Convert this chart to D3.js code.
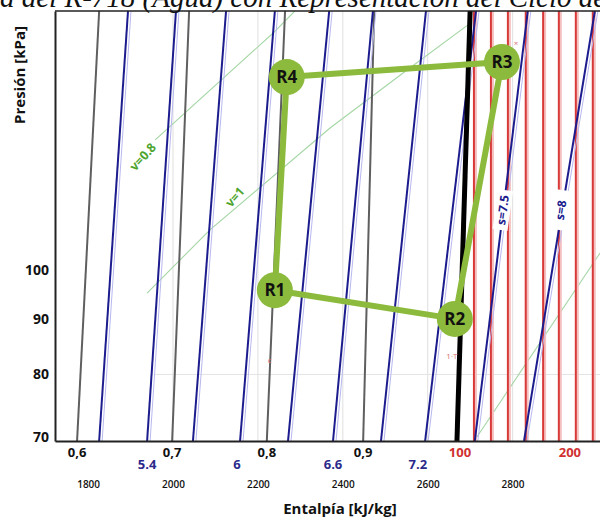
<!DOCTYPE html>
<html>
<head>
<meta charset="utf-8">
<script src="https://cdn.jsdelivr.net/npm/d3@7"></script>
<style>
  body { margin: 0; background: #fff; }
  svg { display: block; }
</style>
</head>
<body>
<script>
// axes: enthalpy (kJ/kg) and pressure (kPa, log)
const hDomain = [1722, 3006]
const pDomain = [69.4, 174]
const hTicks = [1800, 2000, 2200, 2400, 2600, 2800]
const hGrid = [2000, 2200, 2400, 2600, 2800]
const pTicks = [70, 80, 90, 100]
const pGrid = [80]

// quality lines, h at bottom and top of the chart
const qualityLabels = ['0,6', '0,7', '0,8', '0,9']
const qualityHBottom = [1774, 1998, 2221, 2448]
const qualityHTop = [1826, 2038, 2264, 2474]

// saturated vapour (x = 1)
const satVapourH = [2669, 2700]

// isentropes
const entropyValues = [5.1, 5.4, 5.7, 6.0, 6.3, 6.6, 6.9, 7.2, 7.5, 8.0]
const entropyHBottom = [1826, 1939, 2047, 2158, 2271, 2377, 2490, 2594, 2711, 2827]
const entropyHTop = [1894, 2007, 2125, 2240, 2368, 2471, 2596, 2714, 2836, 2994]
const entropyTickLabels = ['5.4', '6', '6.6', '7.2']
const entropyTickH = [1939, 2151, 2377, 2577]
const entropyLineLabels = ['s=7.5', 's=8']
const entropyLineLabelH = [2777, 2914]
const entropyLineLabelP = [113.7, 113.7]

// isotherms in the superheated region
const isothermH = [2709, 2749, 2789, 2831, 2872, 2909, 2949, 2989]
const tempTickLabels = ['100', '200']
const tempTickH = [2676, 2935]

// constant volume lines [h, P]
const volume08 = [[1958, 132.1], [2236, 166], [2287, 174]]
const volume1 = [[1939, 95.2], [2087, 109], [2370, 135.5], [2542, 152.4], [2695, 168.9]]
const volumeSuper = [[2716, 70], [3006, 103.7]]
const volumeLabels = ['v=0.8', 'v=1']
const volumeLabelH = [1929, 2146]
const volumeLabelP = [127.4, 116.9]

// small red marks
const markText = ['1·T', 'c', '×']
const markH = [2657, 2228, 2808]
const markP = [83.2, 82.5, 162.6]

// cycle states
const cycleNames = ['R1', 'R2', 'R3', 'R4']
const cycleH = [2240, 2664, 2775, 2268]
const cycleP = [95.8, 90.1, 156, 151.1]

const titleText = 'Gráfica del R-718 (Agua) con Representación del Ciclo de Carnot'

const width = 600
const height = 519
const margin = { top: 11, right: 0, bottom: 78, left: 55 }
const font = '"Open Sans", "Noto Sans", sans-serif'

const svg = d3.select('body').append('svg')
  .attr('width', width)
  .attr('height', height)

const x = d3.scaleLinear().domain(hDomain).range([margin.left, width - margin.right])
const y = d3.scaleLog().domain(pDomain).range([height - margin.bottom, margin.top])

const line = d3.line().x(d => x(d[0])).y(d => y(d[1]))
const straight = (hb, ht) => [[hb, pDomain[0]], [ht, pDomain[1]]]

svg.append('clipPath').attr('id', 'plot')
  .append('rect')
  .attr('x', margin.left).attr('y', margin.top)
  .attr('width', width - margin.left - margin.right)
  .attr('height', height - margin.top - margin.bottom)

const plot = svg.append('g').attr('clip-path', 'url(#plot)')

// grid
plot.selectAll('.vgrid').data(hGrid).enter().append('line')
  .attr('x1', d => x(d)).attr('x2', d => x(d))
  .attr('y1', margin.top).attr('y2', height - margin.bottom)
  .attr('stroke', '#e4e4e4').attr('stroke-width', 1.2)
plot.selectAll('.hgrid').data(pGrid).enter().append('line')
  .attr('x1', x(1958)).attr('x2', width)
  .attr('y1', d => y(d)).attr('y2', d => y(d))
  .attr('stroke', '#e4e4e4').attr('stroke-width', 1.2)

// constant volume lines
;[volume08, volume1, volumeSuper].forEach(pts => {
  plot.append('path').attr('d', line(pts))
    .attr('fill', 'none').attr('stroke', '#a4d6a4').attr('stroke-width', 1.1)
})
volumeLabels.forEach((t, i) => {
  plot.append('text')
    .attr('transform', `translate(${x(volumeLabelH[i])},${y(volumeLabelP[i])}) rotate(-48)`)
    .attr('text-anchor', 'middle').attr('dy', '0.35em')
    .attr('font-family', font).attr('font-weight', 700).attr('font-size', 12.5)
    .attr('fill', '#4ea52e')
    .text(t)
})

// isotherms
isothermH.forEach(h => {
  plot.append('line')
    .attr('x1', x(h) + 1.5).attr('x2', x(h) + 1.5)
    .attr('y1', margin.top).attr('y2', height - margin.bottom)
    .attr('stroke', '#f5c0c0').attr('stroke-width', 3)
  plot.append('line')
    .attr('x1', x(h)).attr('x2', x(h))
    .attr('y1', margin.top).attr('y2', height - margin.bottom)
    .attr('stroke', '#d83a3a').attr('stroke-width', 2)
})

// quality lines
qualityLabels.forEach((q, i) => {
  plot.append('path').attr('d', line(straight(qualityHBottom[i], qualityHTop[i])))
    .attr('stroke', '#5f5f5f').attr('stroke-width', 2).attr('fill', 'none')
})

// isentropes
entropyValues.forEach((s, i) => {
  const pts = straight(entropyHBottom[i], entropyHTop[i])
  plot.append('path').attr('d', line(pts))
    .attr('transform', 'translate(3,0)')
    .attr('stroke', '#b8b8f0').attr('stroke-width', 1).attr('fill', 'none')
  plot.append('path').attr('d', line(pts))
    .attr('stroke', '#1c1c8e').attr('stroke-width', 2).attr('fill', 'none')
})

// saturated vapour
plot.append('path').attr('d', line(straight(satVapourH[0], satVapourH[1])))
  .attr('stroke', '#000').attr('stroke-width', 5).attr('fill', 'none')

// entropy line labels
entropyLineLabels.forEach((t, i) => {
  const g = plot.append('g')
    .attr('transform', `translate(${x(entropyLineLabelH[i])},${y(entropyLineLabelP[i])}) rotate(-82)`)
  g.append('rect').attr('x', -20).attr('y', -7.5).attr('width', 40).attr('height', 15).attr('fill', '#fff')
  g.append('text')
    .attr('text-anchor', 'middle').attr('dy', '0.35em')
    .attr('font-family', font).attr('font-weight', 700).attr('font-size', 12)
    .attr('fill', '#1c1c8e')
    .text(t)
})

// small marks
markText.forEach((t, i) => {
  plot.append('text')
    .attr('x', x(markH[i])).attr('y', y(markP[i]))
    .attr('text-anchor', 'middle').attr('dy', '0.35em')
    .attr('font-family', font).attr('font-size', 8)
    .attr('fill', '#d87070')
    .text(t)
})

// cycle
const cyclePts = cycleH.map((h, i) => [h, cycleP[i]])
plot.append('path').attr('d', line(cyclePts) + 'Z')
  .attr('fill', 'none').attr('stroke', '#8cba3c').attr('stroke-width', 6)
  .attr('stroke-linejoin', 'round')
const states = plot.selectAll('.state').data(cyclePts).enter().append('g')
  .attr('transform', d => `translate(${x(d[0])},${y(d[1])})`)
states.append('circle').attr('r', 18).attr('fill', '#8cba3c')
states.append('text')
  .attr('text-anchor', 'middle').attr('dy', '0.36em')
  .attr('font-family', font).attr('font-weight', 700).attr('font-size', 17)
  .attr('fill', '#111')
  .text((d, i) => cycleNames[i])

// frame
svg.append('line')
  .attr('x1', margin.left).attr('x2', width)
  .attr('y1', margin.top).attr('y2', margin.top)
  .attr('stroke', '#222').attr('stroke-width', 1.5)

// axes
const xAxis = svg.append('g')
  .attr('transform', `translate(0,${height - margin.bottom})`)
  .call(d3.axisBottom(x).tickValues(hTicks).tickSize(0).tickPadding(40).tickFormat(d3.format('d')))
xAxis.select('.domain').attr('stroke', '#222').attr('stroke-width', 2)
xAxis.selectAll('text')
  .attr('font-family', font).attr('font-weight', 600).attr('font-size', 10).attr('fill', '#111')

const yAxis = svg.append('g')
  .attr('transform', `translate(${margin.left},0)`)
  .call(d3.axisLeft(y).tickValues(pTicks).tickSize(0).tickPadding(6).tickFormat(d3.format('d')))
yAxis.select('.domain').attr('stroke', '#222').attr('stroke-width', 2)
yAxis.selectAll('text')
  .attr('font-family', font).attr('font-weight', 700).attr('font-size', 14).attr('fill', '#111')

// quality, temperature and entropy labels under the axis
const labelRow1 = height - margin.bottom + 16
qualityLabels.forEach((q, i) => {
  svg.append('text').attr('x', x(qualityHBottom[i])).attr('y', labelRow1)
    .attr('text-anchor', 'middle')
    .attr('font-family', font).attr('font-weight', 700).attr('font-size', 13).attr('fill', '#111')
    .text(q)
})
tempTickLabels.forEach((t, i) => {
  svg.append('text').attr('x', x(tempTickH[i])).attr('y', labelRow1)
    .attr('text-anchor', 'middle')
    .attr('font-family', font).attr('font-weight', 700).attr('font-size', 13).attr('fill', '#d03030')
    .text(t)
})
entropyTickLabels.forEach((t, i) => {
  svg.append('text').attr('x', x(entropyTickH[i])).attr('y', labelRow1 + 12)
    .attr('text-anchor', 'middle')
    .attr('font-family', font).attr('font-weight', 700).attr('font-size', 13).attr('fill', '#2a2a8a')
    .text(t)
})

// axis titles
svg.append('text')
  .attr('x', 340).attr('y', 514)
  .attr('text-anchor', 'middle')
  .attr('font-family', font).attr('font-weight', 700).attr('font-size', 15).attr('fill', '#111')
  .text('Entalpía [kJ/kg]')
svg.append('text')
  .attr('transform', 'translate(25,75) rotate(-90)')
  .attr('text-anchor', 'middle')
  .attr('font-family', font).attr('font-weight', 700).attr('font-size', 15).attr('fill', '#111')
  .text('Presión [kPa]')

// cut-off caption above the chart
const title = svg.append('text')
  .attr('y', 7)
  .attr('font-family', '"Liberation Serif", "DejaVu Serif", serif')
  .attr('font-style', 'italic').attr('font-size', 29).attr('fill', '#111')
  .text(titleText)
const probe = svg.append('text')
  .attr('font-family', '"Liberation Serif", serif')
  .attr('font-style', 'italic').attr('font-size', 29)
  .text('Gráfic')
const offset = probe.node().getComputedTextLength()
probe.remove()
title.attr('x', -offset)
</script>
</body>
</html>
